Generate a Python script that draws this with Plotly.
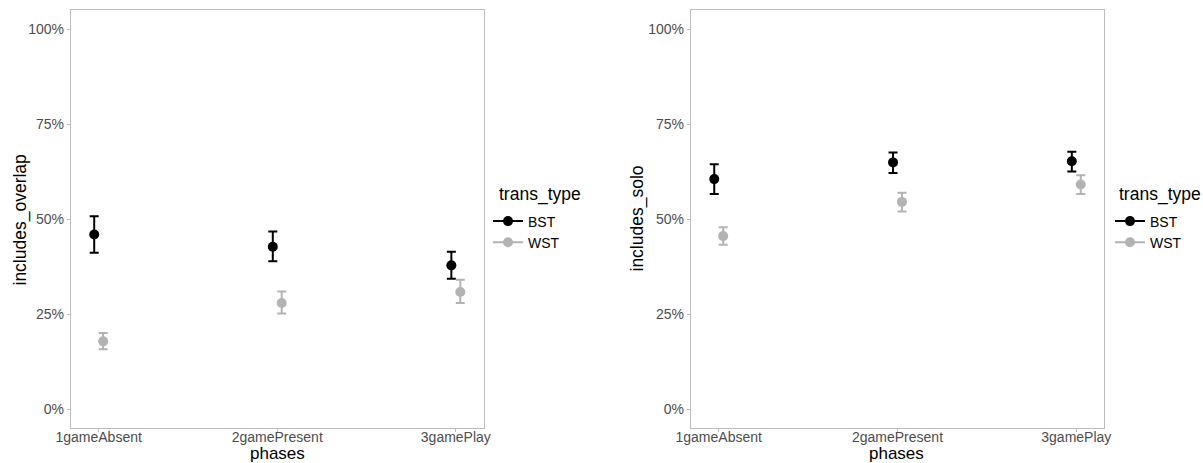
import plotly.graph_objects as go

# ---- data ----
categories = ["1gameAbsent", "2gamePresent", "3gamePlay"]
groups = ["BST", "WST"]

overlap_bst = [0.459, 0.427, 0.378]
overlap_bst_lo = [0.411, 0.389, 0.343]
overlap_bst_hi = [0.507, 0.467, 0.414]
overlap_wst = [0.178, 0.279, 0.308]
overlap_wst_lo = [0.157, 0.251, 0.279]
overlap_wst_hi = [0.200, 0.309, 0.340]

solo_bst = [0.605, 0.649, 0.652]
solo_bst_lo = [0.566, 0.621, 0.625]
solo_bst_hi = [0.644, 0.675, 0.677]
solo_wst = [0.455, 0.545, 0.591]
solo_wst_lo = [0.432, 0.520, 0.566]
solo_wst_hi = [0.478, 0.569, 0.615]

y_ticks = [0, 0.25, 0.5, 0.75, 1.0]

# ---- style ----
W, H = 1203, 463
ML, MR, MT, MB = 71, 99, 10, 35
PW, PH = W - ML - MR, H - MT - MB
colors = {"BST": "#000000", "WST": "#B3B3B3"}
dodge = {"BST": -0.025, "WST": 0.025}
FONT = "Liberation Sans, Arial, sans-serif"
TICKCOL = "#4D4D4D"
FRAME = "#BDBDBD"


def px_x(p):
    return (p - ML) / PW


def px_y(p):
    return 1 - (p - MT) / PH


fig = go.Figure()

panels = [
    ("x", "y", "legend", {"BST": (overlap_bst, overlap_bst_lo, overlap_bst_hi),
                          "WST": (overlap_wst, overlap_wst_lo, overlap_wst_hi)}),
    ("x2", "y2", "legend2", {"BST": (solo_bst, solo_bst_lo, solo_bst_hi),
                             "WST": (solo_wst, solo_wst_lo, solo_wst_hi)}),
]

for xa, ya, lg, series in panels:
    for g in groups:
        val, lo, hi = series[g]
        xs = [i + dodge[g] for i in range(len(categories))]
        fig.add_trace(go.Scatter(
            x=xs, y=val, mode="markers", xaxis=xa, yaxis=ya,
            marker=dict(color=colors[g], size=10),
            error_y=dict(type="data", symmetric=False,
                         array=[h - v for h, v in zip(hi, val)],
                         arrayminus=[v - l for v, l in zip(val, lo)],
                         color=colors[g], thickness=2, width=4.5),
            showlegend=False, hoverinfo="skip",
        ))
    for g in groups:
        fig.add_trace(go.Scatter(
            x=[None], y=[None], mode="lines+markers", xaxis=xa, yaxis=ya,
            name=g, legend=lg,
            marker=dict(color=colors[g], size=10),
            line=dict(color=colors[g], width=2),
        ))

xrange = [-0.155, len(categories) - 1 + 0.155]
axis_common = dict(showgrid=False, zeroline=False, showline=True, mirror=True,
                   linecolor=FRAME, linewidth=1.3, ticks="outside", ticklen=3,
                   tickcolor=FRAME, tickfont=dict(family=FONT, size=14, color=TICKCOL))

left_dom = [0, px_x(483.5)]
right_dom = [px_x(691), 1]

legend_common = dict(font=dict(size=14, family=FONT), xanchor="left", yanchor="top",
                     bgcolor="rgba(0,0,0,0)", itemwidth=30, tracegroupgap=0)

xaxis_extra = dict(range=xrange, tickvals=list(range(len(categories))),
                   ticktext=categories, ticklabelstandoff=-7)

fig.update_layout(
    width=W, height=H, autosize=False,
    margin=dict(l=ML, r=MR, t=MT, b=MB),
    plot_bgcolor="white", paper_bgcolor="white",
    font=dict(family=FONT, color="black"),
    xaxis=dict(domain=left_dom, **xaxis_extra, **axis_common),
    xaxis2=dict(domain=right_dom, anchor="y2", **xaxis_extra, **axis_common),
    yaxis=dict(domain=[0, 1], range=[-0.05, 1.05], tickvals=y_ticks, tickformat=".0%",
               **axis_common),
    yaxis2=dict(domain=[0, 1], range=[-0.05, 1.05], tickvals=y_ticks, tickformat=".0%",
                anchor="x2", **axis_common),
    legend=dict(x=px_x(488), y=px_y(205.5), **legend_common),
    legend2=dict(x=px_x(1110), y=px_y(205.5), **legend_common),
)

annos = [
    ("includes_overlap", 20.5, 220, -90, "center", 17.5),
    ("includes_solo", 636.5, 219, -90, "center", 17.5),
    ("phases", 277.5, 453.5, 0, "center", 17),
    ("phases", 896.5, 453.5, 0, "center", 17),
    ("trans_type", 498, 195, 0, "left", 17.5),
    ("trans_type", 1118, 195, 0, "left", 17.5),
]
for text, x, y, ang, xa, fs in annos:
    fig.add_annotation(text=text, xref="paper", yref="paper", x=px_x(x), y=px_y(y),
                       xanchor=xa, yanchor="middle", showarrow=False, textangle=ang,
                       borderpad=0, font=dict(family=FONT, size=fs, color="black"))

fig.write_html("out.html",
               config={"responsive": False, "displayModeBar": False},
               post_script="document.body.style.margin='0';document.body.style.overflow='hidden';")
